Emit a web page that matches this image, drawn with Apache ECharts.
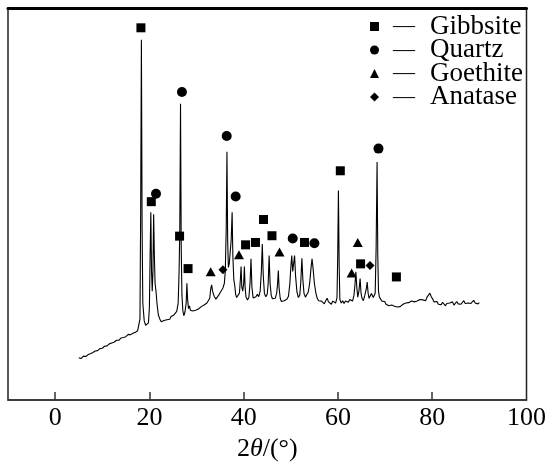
<!DOCTYPE html>
<html>
<head>
<meta charset="utf-8">
<script src="https://cdn.jsdelivr.net/npm/echarts@6/dist/echarts.min.js"></script>
<style>html,body{margin:0;padding:0;background:#fff;}#c{width:549px;height:467px;}</style>
</head>
<body>
<div id="c"></div>
<script>
// XRD pattern (2θ in degrees, relative intensity)
const twoTheta = [5.0,5.5,6.0,6.5,7.0,7.5,8.0,8.5,9.0,9.5,10.0,10.5,11.0,11.5,12.0,12.5,13.0,13.5,14.0,14.5,15.0,15.5,16.0,16.5,17.0,17.5,17.8,18.0,18.15,18.3,18.45,18.6,18.9,19.2,19.5,19.8,20.0,20.15,20.3,20.45,20.6,20.75,20.9,21.05,21.2,21.4,21.6,21.9,22.2,22.5,22.8,23.1,23.4,23.7,24.0,24.3,24.6,24.9,25.2,25.5,25.8,26.1,26.3,26.45,26.6,26.75,26.9,27.1,27.3,27.55,27.8,27.95,28.1,28.3,28.5,28.7,28.9,29.2,29.5,29.8,30.1,30.4,30.7,31.0,31.3,31.6,31.9,32.2,32.5,32.8,33.0,33.2,33.4,33.6,33.8,34.1,34.4,34.7,35.0,35.3,35.6,35.9,36.1,36.3,36.45,36.6,36.75,36.95,37.15,37.35,37.55,37.7,37.9,38.1,38.3,38.5,38.8,39.1,39.3,39.45,39.6,39.8,40.0,40.15,40.3,40.5,40.8,41.1,41.35,41.55,41.75,42.0,42.3,42.6,42.9,43.2,43.5,43.75,43.95,44.15,44.4,44.7,45.0,45.2,45.4,45.6,45.85,46.1,46.4,46.7,47.0,47.2,47.35,47.5,47.75,48.0,48.3,48.6,48.9,49.2,49.5,49.8,50.0,50.2,50.4,50.6,50.8,51.0,51.3,51.6,51.9,52.1,52.35,52.55,52.8,53.1,53.4,53.7,54.0,54.3,54.5,54.7,55.0,55.3,55.6,55.9,56.2,56.5,56.8,57.1,57.4,57.7,58.0,58.3,58.6,58.9,59.2,59.5,59.8,59.95,60.1,60.25,60.4,60.7,61.0,61.3,61.6,61.9,62.2,62.5,62.8,63.1,63.4,63.6,63.8,64.0,64.2,64.45,64.7,64.9,65.1,65.4,65.7,66.0,66.2,66.4,66.6,66.8,67.1,67.5,67.9,68.1,68.3,68.45,68.6,68.8,69.0,69.3,69.6,69.9,70.2,70.5,70.8,71.1,71.4,71.7,72.0,72.3,72.6,72.9,73.2,73.5,73.8,74.1,74.4,74.7,75.0,75.3,75.6,75.9,76.2,76.5,76.8,77.1,77.4,77.7,78.0,78.3,78.6,78.9,79.2,79.5,79.8,80.1,80.4,80.7,81.0,81.3,81.6,81.9,82.2,82.5,82.8,83.1,83.4,83.7,84.0,84.3,84.6,84.9,85.2,85.5,85.8,86.1,86.4,86.7,87.0,87.3,87.6,87.9,88.2,88.5,88.8,89.1,89.4,89.7,90.0];
const intensity = [12.2,12.0,12.6,12.5,13.0,13.2,13.5,13.9,14.0,14.5,14.6,15.1,15.2,15.7,15.9,16.1,16.6,16.6,17.2,17.3,17.5,18.1,18.0,18.4,18.6,19.0,19.4,22,50,92.5,45,26,21.5,20.4,20.2,21.0,25,38,48.9,34,29,34,48.4,38,31,29,26,23,22,21.3,21.0,21.6,21.4,21.8,22.1,21.9,22.6,22.8,23.0,23.5,23.9,26,34,45,76.3,40,28,24,22.8,23.8,26,31,27,24.6,25.3,24.2,24.4,24.0,24.4,24.2,24.7,24.5,24.9,25.1,24.8,25.5,25.4,26.0,25.8,27.2,29.5,30.6,29.0,28.2,27.6,27.0,27.4,28.0,28.6,28.4,29.8,31,34,45,64.2,42,35,36,39,42,48.9,38,32,30.5,28.2,27.4,27.6,28.5,32,35.2,30,29,31,35.2,30,27.5,26.8,27.4,31,37.2,30,27.3,27.0,27.6,28.2,27.6,29,34,40.9,33,28.4,27.6,28.3,31,38.0,31,27.9,27.1,26.8,27.2,28.5,31,34.2,30,27.2,26.4,26.0,26.6,26.2,27.0,27.7,31,35,38.0,34,33.5,38,33,28.8,27.4,28.0,31,37.3,32,28.4,27.5,27.9,28.8,31,35,37.2,35,31,28.6,27.2,26.6,26.1,26.5,26.0,25.8,26.6,27.2,26.3,26.0,25.7,26.5,26.2,26.0,27.4,38,54.4,36,26.9,26.0,26.6,25.9,26.5,26.8,26.2,26.9,27.4,26.5,28.0,30.5,33.9,30,27.5,29,32.2,28.5,27.2,26.6,28.0,29.5,31.3,28.5,27.2,27.5,28.4,27.4,28.5,40,61.6,38,29,27.5,28.0,26.5,26.0,26.4,25.7,25.9,25.3,25.8,25.5,26.0,25.2,25.4,25.0,25.5,25.1,25.6,25.7,25.3,26.0,25.6,26.1,25.9,26.5,26.0,26.3,25.9,26.5,26.1,26.9,26.4,26.8,27.2,26.6,27.5,27.4,28.5,27.6,27.0,26.3,26.0,26.4,25.7,26.1,25.6,26.2,25.8,25.3,25.9,25.4,26.0,25.6,26.3,25.5,25.9,26.4,25.8,26.3,25.7,26.2,26.6,25.9,26.4,26.0,26.5,25.9,26.3,26.7,26.0,26.4,25.8,26.1];

// Phase marker positions [2θ, label height]
const gibbsite = [[18.2,95.5],[20.4,51.6],[26.4,42.9],[28.2,34.7],[40.4,40.7],[42.5,41.3],[44.2,47.1],[46.0,43.0],[52.9,41.3],[60.5,59.4],[64.8,35.9],[72.4,32.6]];
const quartz = [[21.4,53.6],[26.9,79.3],[36.4,68.2],[38.3,52.9],[50.4,42.3],[55.0,41.1],[68.6,65.0]];
const goethite = [[33.0,33.9],[39.0,38.2],[47.6,38.9],[62.9,33.6],[64.2,41.3]];
const anatase = [[35.6,34.4],[66.8,35.5]];

const phaseNames = ['Gibbsite','Quartz','Goethite','Anatase'];
const xTicks = [0,20,40,60,80,100];

const serif = 'Liberation Serif, Times New Roman, serif';
const chart = echarts.init(document.getElementById('c'));
const pattern = twoTheta.map((t,i)=>[t,intensity[i]]);
const mk = {color:'#000',opacity:1};

chart.setOption({
  animation:false,
  backgroundColor:'#fff',
  grid:{left:8,right:19,top:8,bottom:58,show:true,borderColor:'#222',borderWidth:1.5,backgroundColor:'transparent'},
  legend:{
    data:phaseNames, orient:'vertical', left:370, top:13, padding:0, itemWidth:9, itemHeight:9, itemGap:-3.5,
    formatter: n => '{d|—}{n|' + n + '}',
    textStyle:{fontFamily:serif,fontSize:27,lineHeight:23,color:'#000',
      rich:{
        d:{fontFamily:serif,fontSize:22,lineHeight:23,color:'#000',padding:[0,15,0,9]},
        n:{fontFamily:serif,fontSize:27,lineHeight:23,color:'#000'}
      }}
  },
  xAxis:[{
    type:'value', min:-10, max:100, position:'bottom',
    name:'{a|2}{b|θ}{a|/(°)}', nameLocation:'middle', nameGap:33,
    nameTextStyle:{rich:{a:{fontFamily:serif,fontSize:26,color:'#000'},b:{fontFamily:serif,fontSize:26,fontStyle:'italic',color:'#000'}}},
    axisLine:{show:true,lineStyle:{color:'#333',width:1.5}},
    axisTick:{show:true,inside:true,length:8,lineStyle:{color:'#333',width:1.5},customValues:[0,20,40,60,80]},
    axisLabel:{fontFamily:serif,fontSize:26,color:'#000',margin:5,customValues:xTicks},
    splitLine:{show:false}
  },{
    type:'value', min:-10, max:100, position:'top',
    axisLine:{show:true,lineStyle:{color:'#000',width:3}},
    axisTick:{show:false}, axisLabel:{show:false}, splitLine:{show:false}
  }],
  yAxis:{type:'value',min:1.5,max:100.5,show:false},
  series:[
    {name:'XRD',type:'line',data:pattern,showSymbol:false,symbol:'none',lineStyle:{color:'#000',width:1.1},z:2},
    {name:'Gibbsite',type:'scatter',data:gibbsite,symbol:'rect',symbolSize:9,itemStyle:mk,z:3},
    {name:'Quartz',type:'scatter',data:quartz,symbol:'circle',symbolSize:10,itemStyle:mk,z:3},
    {name:'Goethite',type:'scatter',data:goethite,symbol:'triangle',symbolSize:[10,9],itemStyle:mk,z:3},
    {name:'Anatase',type:'scatter',data:anatase,symbol:'diamond',symbolSize:[9,9],itemStyle:mk,z:3}
  ]
});
</script>
</body>
</html>
